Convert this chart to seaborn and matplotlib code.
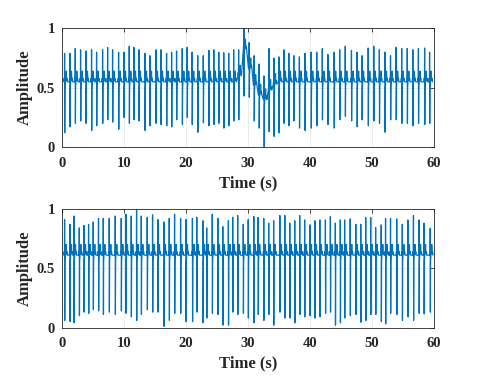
import numpy as np
import pandas as pd
import matplotlib
matplotlib.use('Agg')
import matplotlib.pyplot as plt
import seaborn as sns

# beat times (s), R-peak and S-trough amplitudes, baseline level per beat
top_t = [0.43, 1.29, 2.15, 3.01, 3.87, 4.78, 5.59, 6.56, 7.37, 8.17, 9.14, 10.0, 10.86, 11.61,
         12.42, 13.39, 14.19, 15.16, 15.97, 16.88, 17.69, 18.49, 19.41, 20.2, 21.0, 21.9, 22.8,
         23.7, 24.5, 25.3, 26.1, 26.9, 27.7, 28.5, 29.35, 30.2, 31.0, 31.8, 32.6, 33.4, 34.2,
         35.0, 35.8, 36.6, 37.4, 38.3, 39.2, 40.2, 41.1, 42.0, 42.9, 43.9, 44.8, 45.7, 46.7,
         47.6, 48.4, 49.4, 50.3, 51.2, 52.1, 53.0, 53.9, 54.8, 55.7, 56.6, 57.5, 58.5, 59.3]
top_r = [0.79, 0.79, 0.83, 0.82, 0.81, 0.82, 0.80, 0.82, 0.84, 0.82, 0.80, 0.80, 0.85, 0.84,
         0.82, 0.79, 0.77, 0.82, 0.82, 0.79, 0.80, 0.81, 0.83, 0.84, 0.80, 0.77, 0.77,
         0.815, 0.82, 0.80, 0.795, 0.79, 0.82, 0.82, 1.0, 0.88, 0.77, 0.70, 0.60, 0.83, 0.75,
         0.76, 0.82, 0.79, 0.77, 0.76, 0.79, 0.80, 0.80, 0.83, 0.78, 0.80, 0.82, 0.85, 0.815,
         0.80, 0.77, 0.835, 0.85, 0.82, 0.80, 0.77, 0.84, 0.83, 0.83, 0.82, 0.83, 0.835, 0.80]
top_s = [0.12, 0.17, 0.20, 0.22, 0.20, 0.14, 0.18, 0.20, 0.23, 0.21, 0.15, 0.25, 0.20, 0.23,
         0.22, 0.14, 0.18, 0.20, 0.19, 0.18, 0.17, 0.23, 0.19, 0.25, 0.19, 0.125, 0.205,
         0.18, 0.19, 0.20, 0.16, 0.18, 0.22, 0.23, 0.43, 0.42, 0.22, 0.16, 0.0, 0.13, 0.09,
         0.12, 0.20, 0.18, 0.22, 0.16, 0.14, 0.16, 0.18, 0.23, 0.19, 0.16, 0.23, 0.26, 0.22,
         0.17, 0.23, 0.18, 0.22, 0.20, 0.125, 0.23, 0.23, 0.20, 0.20, 0.18, 0.20, 0.19, 0.20]
top_base = [0.55] * 33 + [0.60, 0.82, 0.66, 0.52, 0.44, 0.40, 0.48, 0.53] + [0.55] * 28

bot_t = [0.43, 1.29, 1.94, 2.8, 3.55, 4.3, 5.05, 5.9, 6.67, 7.63, 8.6, 9.57, 10.32, 11.18,
         12.04, 12.8, 13.76, 14.62, 15.48, 16.45, 17.31, 18.17, 19.14, 20.0,
         21.05, 21.75, 22.75, 23.35, 24.25, 25.15, 25.95, 26.85, 27.55, 28.35, 29.25, 30.05,
         30.95, 31.65, 32.55, 33.35, 34.15, 35.15, 35.95, 36.75, 37.55, 38.35, 39.15,
         40.0, 40.8, 41.6, 42.5, 43.3, 44.1, 44.9, 45.6, 46.5, 47.4, 48.2, 49.0, 49.8, 50.6,
         51.5, 52.2, 53.0, 54.0, 54.9, 55.8, 56.7, 57.6, 58.4, 59.4]
bot_r = [0.91, 0.87, 0.94, 0.84, 0.86, 0.87, 0.89, 0.92, 0.92, 0.92, 0.94, 0.92, 0.955, 0.94,
         0.99, 0.94, 0.93, 0.95, 0.91, 0.89, 0.92, 0.955, 0.92, 0.91,
         0.92, 0.93, 0.90, 0.84, 0.955, 0.92, 0.85, 0.90, 0.93, 0.944, 0.87, 0.91,
         0.935, 0.927, 0.92, 0.88, 0.90, 0.944, 0.944, 0.88, 0.90, 0.944, 0.907,
         0.865, 0.90, 0.907, 0.907, 0.935, 0.88, 0.907, 0.907, 0.916, 0.87, 0.87, 0.927, 0.927,
         0.842, 0.865, 0.92, 0.92, 0.916, 0.87, 0.907, 0.944, 0.907, 0.88, 0.837]
bot_s = [0.06, 0.05, 0.04, 0.10, 0.13, 0.12, 0.15, 0.14, 0.11, 0.13, 0.11, 0.14, 0.12, 0.09,
         0.06, 0.11, 0.15, 0.13, 0.13, 0.01, 0.06, 0.12, 0.12, 0.05,
         0.05, 0.13, 0.04, 0.08, 0.12, 0.11, 0.02, 0.02, 0.13, 0.11, 0.12, 0.08,
         0.04, 0.11, 0.06, 0.11, 0.02, 0.13, 0.08, 0.08, 0.04, 0.11, 0.09,
         0.10, 0.08, 0.09, 0.12, 0.13, 0.02, 0.04, 0.08, 0.10, 0.11, 0.045, 0.06, 0.11,
         0.11, 0.05, 0.03, 0.12, 0.11, 0.06, 0.09, 0.06, 0.12, 0.115, 0.13]
bot_base = [0.61] * len(bot_t)

# waveform shape of one beat: (time offset, level relative to baseline)
shape_before = [(-0.10, 0.0), (-0.05, 0.03), (-0.02, 0.0)]
shape_after = [(0.06, -0.05), (0.11, 0.0), (0.2, 0.02), (0.25, 0.09), (0.31, 0.01),
               (0.38, 0.03), (0.45, 0.0)]


def build(times, r, s, base):
    rows = []
    for t, rv, sv, b in zip(times, r, s, base):
        for dt, lv in shape_before:
            rows.append((t + dt, b + lv))
        rows.append((t, rv))
        rows.append((t + 0.025, sv))
        for dt, lv in shape_after:
            rows.append((t + dt, b + lv))
    return pd.DataFrame(rows, columns=['time', 'amp'])


top = build(top_t, top_r, top_s, top_base)
bot = build(bot_t, bot_r, bot_s, bot_base)

sns.set_style('whitegrid')
plt.rcParams['font.family'] = ['Liberation Serif', 'DejaVu Serif']
plt.rcParams['font.weight'] = 'bold'

fig = plt.figure(figsize=(4.8, 3.84), dpi=100)
a = fig.add_axes([0.129, 0.617, 0.775, 0.309])
b = fig.add_axes([0.129, 0.147, 0.775, 0.309])

for ax, df in [(a, top), (b, bot)]:
    sns.lineplot(data=df, x='time', y='amp', ax=ax, color='#0072BD', lw=0.9,
                 estimator=None, sort=False)
    ax.set_xlim(0, 60)
    ax.set_ylim(0, 1)
    ax.set_xticks([0, 10, 20, 30, 40, 50, 60])
    ax.set_yticks([0, 0.5, 1])
    ax.set_yticklabels(['0', '0.5', '1'])
    ax.set_xlabel('Time (s)', fontsize=12, fontweight='bold', labelpad=4)
    ax.set_ylabel('Amplitude', fontsize=12, fontweight='bold', labelpad=3)
    ax.grid(True, color='#e6e6e6', lw=0.6)
    ax.tick_params(direction='in', length=3, width=0.6, color='#262626', labelsize=10.5,
                   top=True, right=True)
    ax.tick_params(axis='x', pad=7)
    ax.tick_params(axis='y', pad=5)
    for lab in ax.get_xticklabels() + ax.get_yticklabels():
        lab.set_fontweight('bold')
    for sp in ax.spines.values():
        sp.set_color('#262626')
        sp.set_linewidth(0.6)

fig.savefig('out.png', dpi=100)
